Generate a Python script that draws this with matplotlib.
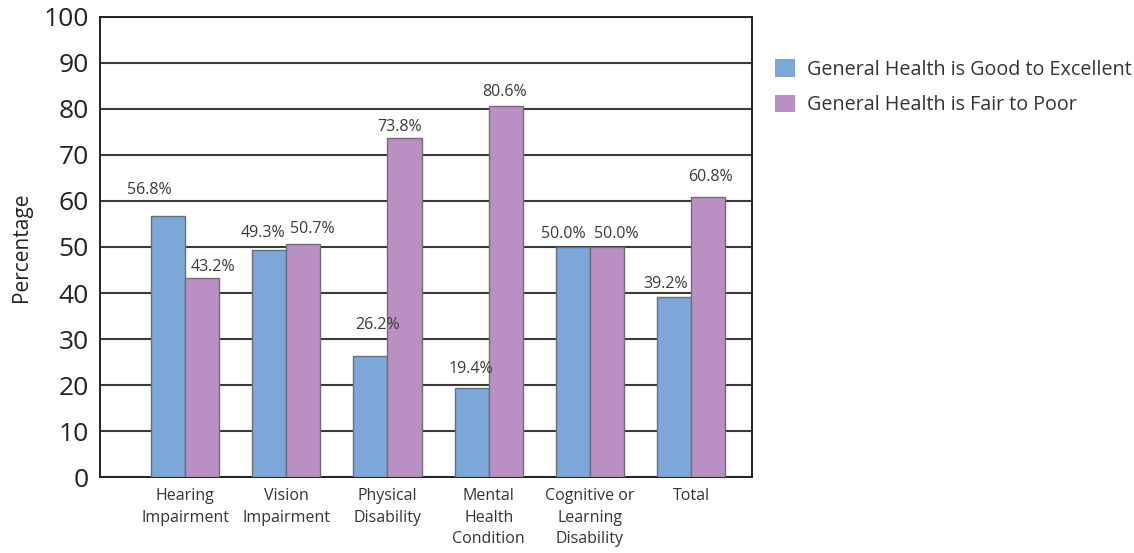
import matplotlib
matplotlib.use("Agg")
import matplotlib.pyplot as plt
import numpy as np
from matplotlib.patches import Patch

categories = ["Hearing\nImpairment", "Vision\nImpairment", "Physical\nDisability",
              "Mental\nHealth\nCondition", "Cognitive or\nLearning\nDisability", "Total"]
good = [56.8, 49.3, 26.2, 19.4, 50.0, 39.2]
poor = [43.2, 50.7, 73.8, 80.6, 50.0, 60.8]
series_names = ["General Health is Good to Excellent", "General Health is Fair to Poor"]
yticks = [0, 10, 20, 30, 40, 50, 60, 70, 80, 90, 100]

# label offsets (style): (dx in bar units, dy in data units, to label centre)
good_off = [(-0.18, 5.6), (-0.06, 3.7), (0.07, 6.8), (-0.01, 4.1), (-0.09, 2.8), (-0.08, 2.8)]
poor_off = [(0.11, 2.4), (0.09, 3.2), (-0.05, 2.3), (-0.01, 3.1), (0.09, 2.8), (0.02, 4.4)]

plt.rcParams['font.family'] = ['Open Sans', 'DejaVu Sans']

fig = plt.figure(figsize=(11.34, 5.53), dpi=100)
ax = fig.add_axes([0.0882, 0.1374, 0.663 - 0.0882, 0.9693 - 0.1374])

blue = "#7BA7D9"
purple = "#BA90C4"
edge = "#6E6E6E"
x = np.arange(len(categories))
w = 0.337

ax.set_axisbelow(True)
ax.yaxis.grid(True, color="#3A3A3A", linewidth=1.5)
ax.bar(x - w / 2, good, width=w, color=blue, edgecolor=edge, linewidth=1.0, zorder=3)
ax.bar(x + w / 2, poor, width=w, color=purple, edgecolor=edge, linewidth=1.0, zorder=3)

for i in range(len(categories)):
    dx, dy = good_off[i]
    ax.text(x[i] - w / 2 + dx, good[i] + dy, f"{good[i]:.1f}%", ha="center", va="center",
            fontsize=11.5, color="#3A3A3A")
    dx, dy = poor_off[i]
    ax.text(x[i] + w / 2 + dx, poor[i] + dy, f"{poor[i]:.1f}%", ha="center", va="center",
            fontsize=11.5, color="#3A3A3A")

ax.set_xlim(-0.84, 5.6)
ax.set_ylim(0, 100)
ax.set_yticks(yticks)
ax.set_yticklabels([str(t) for t in yticks], fontsize=19, color="#222222")
ax.set_xticks(x)
ax.set_xticklabels(categories, fontsize=11.5, color="#333333", linespacing=1.45)
ax.tick_params(axis="both", length=0)
ax.tick_params(axis="y", pad=8)
ax.tick_params(axis="x", pad=8)
ax.set_ylabel("Percentage", fontsize=15, color="#222222", labelpad=8)

for s in ax.spines.values():
    s.set_color("#222222")
    s.set_linewidth(1.4)

handles = [Patch(facecolor=blue, edgecolor="none"), Patch(facecolor=purple, edgecolor="none")]
fig.legend(handles, series_names, loc="upper left", bbox_to_anchor=(0.668, 0.925),
           frameon=False, fontsize=14.2, handlelength=1.0, handleheight=1.0,
           labelspacing=0.75, handletextpad=0.6, labelcolor="#333333")

fig.savefig("out.png", dpi=100)
